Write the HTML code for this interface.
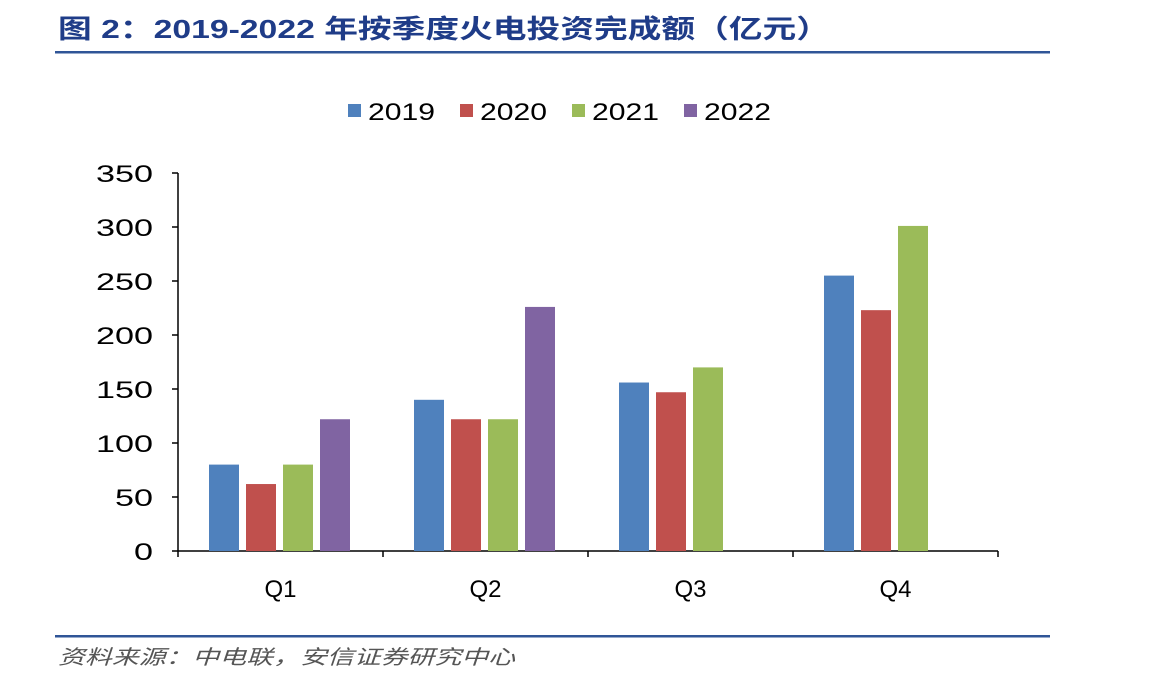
<!DOCTYPE html>
<html><head><meta charset="utf-8">
<style>
body{margin:0;width:1152px;height:674px;background:#fff;overflow:hidden;font-family:"Liberation Sans","Noto Sans CJK SC",sans-serif;}
</style></head>
<body>
<svg id="chart" width="1152" height="674" xmlns="http://www.w3.org/2000/svg">
<text x="58" y="38" font-size="26" font-weight="bold" fill="#1F3C88" textLength="772" lengthAdjust="spacingAndGlyphs" font-family="Liberation Sans,Noto Sans CJK SC,sans-serif">图 2：2019-2022 年按季度火电投资完成额（亿元）</text>
<rect x="55" y="51" width="995" height="2.5" fill="#2F5597"/>
<rect x="55" y="635" width="995" height="2.5" fill="#2F5597"/>
<text x="58" y="664" font-size="20" font-style="italic" fill="#555" textLength="457" lengthAdjust="spacingAndGlyphs" font-family="Liberation Sans,Noto Sans CJK SC,sans-serif">资料来源：中电联，安信证券研究中心</text>
<g id="plot"></g>
</svg>
<script>
const categories=["Q1","Q2","Q3","Q4"];
const seriesNames=["2019","2020","2021","2022"];
const s2019=[80,140,156,255];
const s2020=[62,122,147,223];
const s2021=[80,122,170,301];
const s2022=[122,226,null,null];
const yTicks=[0,50,100,150,200,250,300,350];
const colors=["#4F81BD","#C0504D","#9BBB59","#8064A2"];
const series=[s2019,s2020,s2021,s2022];
const NS="http://www.w3.org/2000/svg";
const g=document.getElementById('plot');
const x0=178,x1=998,y0=551,yTop=173,yMax=350;
const ys=v=>y0-(v/yMax)*(y0-yTop);
const gw=(x1-x0)/categories.length;
const xs=(ci,si)=>x0+ci*gw+31+si*37;
function mk(t,a){const e=document.createElementNS(NS,t);for(const k in a)e.setAttribute(k,a[k]);g.appendChild(e);return e;}
let ya=mk('line',{x1:x0,y1:yTop,x2:x0,y2:y0,stroke:'#000','stroke-width':1.5});


let xa=mk('line',{x1:x0,y1:y0,x2:x1,y2:y0,stroke:'#000','stroke-width':1.5});


yTicks.forEach(v=>{
 let tk=mk('line',{x1:x0-6,y1:ys(v),x2:x0,y2:ys(v),stroke:'#000','stroke-width':1.5});
 
 
 const s=String(v);
 let t=mk('text',{x:153,y:ys(v)+9,'text-anchor':'end','font-size':24,fill:'#000',textLength:s.length*19,lengthAdjust:'spacingAndGlyphs'});
 t.textContent=s;
 
 
});
for(let i=0;i<=categories.length;i++){
 let tk=mk('line',{x1:x0+i*gw,y1:y0,x2:x0+i*gw,y2:y0+6,stroke:'#000','stroke-width':1.5});
 
 
}
categories.forEach((c,ci)=>{
 let t=mk('text',{x:x0+ci*gw+gw/2,y:597,'text-anchor':'middle','font-size':24,fill:'#000',textLength:32,lengthAdjust:'spacingAndGlyphs'});
 t.textContent=c;
 
 
 series.forEach((s,si)=>{
  const v=s[ci];if(v==null)return;
  let r=mk('rect',{x:xs(ci,si),y:ys(v),width:30,height:y0-ys(v),fill:colors[si]});
  
  
 });
});
seriesNames.forEach((n,i)=>{
 const lx=348+i*112;
 let r=mk('rect',{x:lx,y:104,width:13,height:13,fill:colors[i]});
 
 
 let t=mk('text',{x:lx+20,y:120,'font-size':24,fill:'#000',textLength:67,lengthAdjust:'spacingAndGlyphs'});
 t.textContent=n;
 
 
});
</script>
</body></html>
